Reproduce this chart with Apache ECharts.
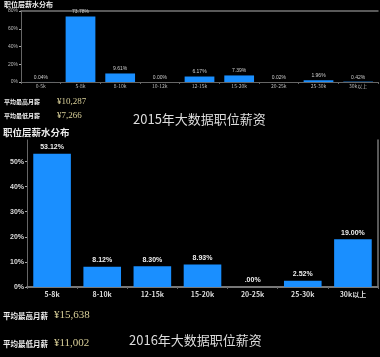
<!DOCTYPE html>
<html><head><meta charset="utf-8">
<script src="https://cdn.jsdelivr.net/npm/echarts@6/dist/echarts.min.js"></script>
<style>html,body{margin:0;padding:0;background:#000;}#c{width:380px;height:357px;}</style>
</head><body><div id="c"></div>
<script>
var cats2015 = ['0-5k','5-8k','8-10k','10-12k','12-15k','15-20k','20-25k','25-30k','30k以上'];
var vals2015 = [0.04, 73.78, 9.61, 0.00, 6.17, 7.39, 0.02, 1.96, 0.42];
var ticks2015 = [0, 20, 40, 60, 80];
var cats2016 = ['5-8k','8-10k','12-15k','15-20k','20-25k','25-30k','30k以上'];
var vals2016 = [53.12, 8.12, 8.30, 8.93, 0.00, 2.52, 19.00];
var ticks2016 = [0, 10, 20, 30, 40, 50];
var stats2015 = {high: '¥10,287', low: '¥7,266'};
var stats2016 = {high: '¥15,638', low: '¥11,002'};

var chart = echarts.init(document.getElementById('c'));
var blue = '#1a8fff';
var axisGray = '#666';
var gold = '#d8cf98';
var cjk = '"Noto Sans CJK SC", sans-serif';
function txt(x, y, text, size, color, weight, family, align) {
  return {type: 'text', left: x, top: y, style: {text: text, fontSize: size, fill: color, fontWeight: weight || 'normal', fontFamily: family || cjk, textAlign: align || 'left'}};
}
var option = {
  backgroundColor: '#000',
  animation: false,
  grid: [
    {left: 21, right: 2, top: 11, height: 71, containLabel: false, outerBoundsMode: 'none'},
    {left: 27, right: 2, top: 140, height: 147, containLabel: false, outerBoundsMode: 'none'}
  ],
  xAxis: [
    {gridIndex: 0, type: 'category', data: cats2015,
     axisLine: {lineStyle: {color: axisGray}}, axisTick: {show: true, length: 2, lineStyle: {color: axisGray}},
     axisLabel: {color: '#bbb', fontSize: 5, margin: 2, interval: 0, fontFamily: cjk}},
    {gridIndex: 0, type: 'category', position: 'top', data: cats2015,
     axisLine: {show: true, lineStyle: {color: '#777', width: 1.5}}, axisTick: {show: false}, axisLabel: {show: false}},
    {gridIndex: 1, type: 'category', data: cats2016,
     axisLine: {lineStyle: {color: axisGray}}, axisTick: {show: true, length: 2, lineStyle: {color: axisGray}},
     axisLabel: {color: '#ddd', fontSize: 7, fontWeight: 'bold', margin: 4, interval: 0, fontFamily: cjk}},
    {gridIndex: 1, type: 'category', position: 'top', data: cats2016,
     axisLine: {show: true, lineStyle: {color: '#777', width: 2}}, axisTick: {show: false}, axisLabel: {show: false}}
  ],
  yAxis: [
    {gridIndex: 0, type: 'value', min: ticks2015[0], max: ticks2015[ticks2015.length-1], interval: 20,
     splitLine: {show: false},
     axisLine: {show: true, lineStyle: {color: axisGray}}, axisTick: {show: true, length: 2, lineStyle: {color: '#aaa'}},
     axisLabel: {color: '#bbb', fontSize: 5, margin: 3, formatter: '{value}%'},
     name: '% of Total 记录数', nameLocation: 'middle', nameGap: 13, nameRotate: 90,
     nameTextStyle: {color: '#ccc', fontSize: 5, fontFamily: cjk}},
    {gridIndex: 1, type: 'value', min: 0, max: 58.6, interval: 10,
     splitLine: {show: false},
     axisLine: {show: true, lineStyle: {color: axisGray}}, axisTick: {show: true, length: 2, lineStyle: {color: '#aaa'}},
     axisLabel: {color: '#ddd', fontSize: 7, fontWeight: 'bold', margin: 3, showMaxLabel: false,
       formatter: function (v) { return ticks2016.indexOf(v) >= 0 ? v + '%' : ''; }},
     name: '招聘人数 的合计 %', nameLocation: 'middle', nameGap: 19, nameRotate: 90,
     nameTextStyle: {color: '#ddd', fontSize: 6, fontFamily: cjk}},
    {gridIndex: 1, type: 'value', position: 'right', min: 0, max: 58.6,
     splitLine: {show: false}, axisLine: {show: true, lineStyle: {color: '#777', width: 1.5}},
     axisTick: {show: false}, axisLabel: {show: false}}
  ],
  series: [
    {type: 'bar', xAxisIndex: 0, yAxisIndex: 0, data: vals2015, barCategoryGap: '25%',
     itemStyle: {color: blue},
     label: {show: true, position: 'top', distance: 2, color: '#ccc', fontSize: 5,
       formatter: function (p) { return p.value.toFixed(2) + '%'; }}},
    {type: 'bar', xAxisIndex: 2, yAxisIndex: 1, data: vals2016, barCategoryGap: '25%',
     itemStyle: {color: blue},
     label: {show: true, position: 'top', distance: 3, color: '#eee', fontSize: 7, fontWeight: 'bold',
       formatter: function (p) { return p.value === 0 ? '.00%' : p.value.toFixed(2) + '%'; }}}
  ],
  graphic: [
    txt(4, 1, '职位层薪水分布', 7, '#eee', 'bold'),
    txt(4, 99, '平均最高月薪', 6, '#eee', 'bold'),
    txt(57, 97, stats2015.high, 9, gold, 'normal', '"Liberation Serif", serif'),
    txt(4, 113, '平均最低月薪', 6, '#eee', 'bold'),
    txt(57, 111, stats2015.low, 9, gold, 'normal', '"Liberation Serif", serif'),
    txt(133, 113, '2015年大数据职位薪资', 13, '#ddd'),
    txt(3, 128, '职位层薪水分布', 9.5, '#eee', 'bold'),
    txt(3, 312, '平均最高月薪', 7.5, '#eee', 'bold'),
    txt(54, 310, stats2016.high, 11, gold, 'normal', '"Liberation Serif", serif'),
    txt(3, 340, '平均最低月薪', 7.5, '#eee', 'bold'),
    txt(54, 338, stats2016.low, 11, gold, 'normal', '"Liberation Serif", serif'),
    txt(129, 334, '2016年大数据职位薪资', 13, '#ddd')
  ]
};
chart.setOption(option);
</script>
</body></html>
